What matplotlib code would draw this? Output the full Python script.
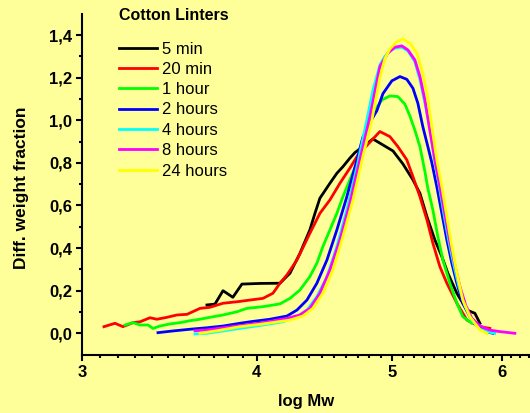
"""
molar mass distributions, cotton linters
"""
import matplotlib
matplotlib.use('Agg')
import matplotlib.pyplot as plt
from matplotlib.ticker import FixedLocator, FuncFormatter, NullFormatter

plt.rcParams['font.family'] = ['Liberation Sans', 'DejaVu Sans']

labels = ['5 min', '20 min', '1 hour', '2 hours', '4 hours', '8 hours', '24 hours']
colors = ['#000000', '#ff0000', '#00ff00', '#0000ff', '#00ffff', '#ff00ff', '#ffff00']

black_x = [3.685, 3.734, 3.784, 3.846, 3.904, 4.022, 4.157, 4.226, 4.296, 4.367, 4.404, 4.440,
           4.514, 4.566, 4.612, 4.665, 4.704, 4.766, 4.846, 4.927, 5.009, 5.092, 5.177, 5.237,
           5.298, 5.368, 5.430, 5.484, 5.566, 5.659, 5.734, 5.782]
black_y = [0.133, 0.137, 0.200, 0.169, 0.231, 0.234, 0.235, 0.282, 0.375, 0.485, 0.563, 0.634,
           0.704, 0.751, 0.782, 0.822, 0.848, 0.876, 0.912, 0.884, 0.856, 0.795, 0.720, 0.657,
           0.547, 0.438, 0.360, 0.282, 0.188, 0.109, 0.094, 0.047]

red_x = [3.109, 3.166, 3.208, 3.262, 3.300, 3.354, 3.393, 3.450, 3.507, 3.566, 3.643, 3.703,
         3.784, 3.872, 3.956, 4.042, 4.109, 4.157, 4.205, 4.275, 4.367, 4.440, 4.514, 4.589,
         4.665, 4.728, 4.838, 4.902, 4.984, 5.050, 5.125, 5.177, 5.237, 5.298, 5.350, 5.412,
         5.475, 5.566, 5.659, 5.782, 5.877]
red_y = [0.031, 0.047, 0.031, 0.050, 0.054, 0.073, 0.066, 0.075, 0.086, 0.089, 0.117, 0.122,
         0.141, 0.148, 0.156, 0.164, 0.188, 0.235, 0.274, 0.344, 0.469, 0.563, 0.626, 0.704,
         0.775, 0.837, 0.907, 0.947, 0.923, 0.876, 0.814, 0.735, 0.641, 0.532, 0.423, 0.313,
         0.235, 0.141, 0.062, 0.031, 0.023]

green_x = [3.219, 3.262, 3.300, 3.343, 3.371, 3.410, 3.467, 3.525, 3.583, 3.643, 3.703, 3.784,
           3.872, 3.936, 4.042, 4.157, 4.226, 4.296, 4.367, 4.418, 4.462, 4.514, 4.566, 4.612,
           4.665, 4.720, 4.766, 4.846, 4.918, 4.984, 5.050, 5.109, 5.151, 5.193, 5.237, 5.280,
           5.306, 5.350, 5.394, 5.439, 5.502, 5.566, 5.621, 5.706]
green_y = [0.039, 0.050, 0.039, 0.039, 0.023, 0.034, 0.044, 0.050, 0.059, 0.066, 0.075, 0.086,
           0.101, 0.117, 0.125, 0.138, 0.164, 0.203, 0.266, 0.329, 0.407, 0.485, 0.563, 0.641,
           0.720, 0.800, 0.900, 1.033, 1.095, 1.114, 1.111, 1.075, 1.020, 0.954, 0.876, 0.760,
           0.680, 0.579, 0.454, 0.344, 0.235, 0.141, 0.078, 0.047]

blue_x = [3.399, 3.484, 3.583, 3.685, 3.784, 3.891, 3.956, 4.089, 4.205, 4.275, 4.346, 4.418,
          4.492, 4.566, 4.642, 4.720, 4.766, 4.822, 4.878, 4.927, 5.000, 5.067, 5.125, 5.177,
          5.219, 5.262, 5.306, 5.341, 5.385, 5.430, 5.475, 5.520, 5.566, 5.621, 5.687, 5.762,
          5.848, 5.906]
blue_y = [0.003, 0.011, 0.019, 0.026, 0.034, 0.047, 0.054, 0.066, 0.081, 0.109, 0.156, 0.235,
          0.344, 0.485, 0.641, 0.814, 0.920, 0.990, 1.045, 1.125, 1.185, 1.205, 1.192, 1.150,
          1.080, 0.970, 0.876, 0.800, 0.688, 0.563, 0.438, 0.329, 0.235, 0.141, 0.078, 0.039,
          0.008, 0.000]

cyan_x = [3.613, 3.685, 3.784, 3.891, 4.042, 4.177, 4.275, 4.346, 4.418, 4.492, 4.566, 4.642,
          4.720, 4.798, 4.846, 4.902, 4.943, 4.984, 5.025, 5.083, 5.134, 5.193, 5.237, 5.280,
          5.324, 5.359, 5.403, 5.448, 5.493, 5.538, 5.584, 5.640, 5.706, 5.782, 5.848, 5.926]
cyan_y = [-0.003, 0.000, 0.011, 0.023, 0.039, 0.054, 0.078, 0.109, 0.172, 0.266, 0.407, 0.579,
          0.782, 1.001, 1.140, 1.260, 1.300, 1.325, 1.338, 1.343, 1.325, 1.275, 1.190, 1.080,
          0.960, 0.830, 0.700, 0.560, 0.430, 0.320, 0.220, 0.130, 0.060, 0.020, 0.008, 0.000]

magenta_x = [3.613, 3.685, 3.784, 3.891, 4.042, 4.205, 4.296, 4.367, 4.440, 4.514, 4.589, 4.665,
             4.743, 4.822, 4.902, 4.967, 5.025, 5.083, 5.134, 5.193, 5.237, 5.280, 5.324, 5.368,
             5.412, 5.457, 5.502, 5.548, 5.594, 5.649, 5.706, 5.782, 5.877, 5.975, 6.125]
magenta_y = [0.012, 0.016, 0.026, 0.036, 0.050, 0.070, 0.086, 0.117, 0.188, 0.297, 0.438, 0.610,
             0.814, 1.017, 1.252, 1.315, 1.343, 1.349, 1.330, 1.283, 1.205, 1.095, 0.950, 0.814,
             0.690, 0.560, 0.430, 0.320, 0.220, 0.130, 0.070, 0.035, 0.015, 0.008, 0.000]

yellow_x = [3.643, 3.746, 3.891, 4.042, 4.226, 4.317, 4.389, 4.462, 4.536, 4.612, 4.689, 4.766,
            4.838, 4.902, 4.943, 4.984, 5.042, 5.092, 5.151, 5.211, 5.254, 5.298, 5.341, 5.385,
            5.430, 5.475, 5.520, 5.566, 5.621, 5.687, 5.782, 5.848]
yellow_y = [0.000, 0.012, 0.031, 0.044, 0.062, 0.081, 0.117, 0.188, 0.297, 0.454, 0.626, 0.829,
            1.001, 1.200, 1.290, 1.335, 1.369, 1.382, 1.362, 1.315, 1.236, 1.127, 0.970, 0.814,
            0.688, 0.547, 0.407, 0.282, 0.156, 0.078, 0.016, 0.000]

series_x = [black_x, red_x, green_x, blue_x, cyan_x, magenta_x, yellow_x]
series_y = [black_y, red_y, green_y, blue_y, cyan_y, magenta_y, yellow_y]

x_major = [3, 4, 5, 6]
y_major = [0.0, 0.2, 0.4, 0.6, 0.8, 1.0, 1.2, 1.4]
y_minor = [0.1, 0.3, 0.5, 0.7, 0.9, 1.1, 1.3]

bg = '#ffff99'
fig = plt.figure(figsize=(5.3, 4.13), dpi=100, facecolor=bg)
ax = fig.add_axes([0.1553, 0.1414, 0.8447, 0.8254], facecolor=bg)

for xs, ys, c, lab in zip(series_x, series_y, colors, labels):
    ax.plot(xs, ys, color=c, lw=2.0, label=lab)

ax.set_xscale('log')
ax.set_xlim(3, 6.28)
ax.set_ylim(-0.1, 1.5)

ax.xaxis.set_major_locator(FixedLocator(x_major))
ax.xaxis.set_major_formatter(FuncFormatter(lambda v, p: '%d' % round(v)))
x_minor = [m + k / 11 for m in x_major for k in range(1, 11)]
ax.xaxis.set_minor_locator(FixedLocator(x_minor))
ax.xaxis.set_minor_formatter(NullFormatter())

ax.yaxis.set_major_locator(FixedLocator(y_major))
ax.yaxis.set_major_formatter(FuncFormatter(lambda v, p: ('%.1f' % v).replace('.', ',')))
ax.yaxis.set_minor_locator(FixedLocator(y_minor))

for side in ['top', 'right']:
    ax.spines[side].set_visible(False)
for side in ['left', 'bottom']:
    ax.spines[side].set_linewidth(1.5)

ax.tick_params(which='major', direction='out', length=4.5, width=1.5, pad=3,
               labelsize=12)
ax.tick_params(which='minor', direction='out', length=2.5, width=1.5)
for lbl in ax.get_xticklabels() + ax.get_yticklabels():
    lbl.set_fontweight('bold')

ax.set_xlabel('log Mw', fontsize=12, fontweight='bold', labelpad=10)
ax.set_ylabel('Diff. weight fraction', fontsize=12.5, fontweight='bold')
ax.yaxis.set_label_coords(-0.118, 0.49)

# legend title as separate text, origin leaves a wide gap under it
fig.text(119 / 530, 405 / 413, 'Cotton Linters', fontsize=11.5, fontweight='bold',
         ha='left', va='top')
ax.legend(loc='upper left', bbox_to_anchor=(119 / 530, 371.5 / 413),
          bbox_transform=fig.transFigure, frameon=False, fontsize=12,
          handlelength=2.3, handletextpad=0.3, labelspacing=0.32,
          borderpad=0, borderaxespad=0)

fig.savefig('out.png', dpi=100, facecolor=bg)
